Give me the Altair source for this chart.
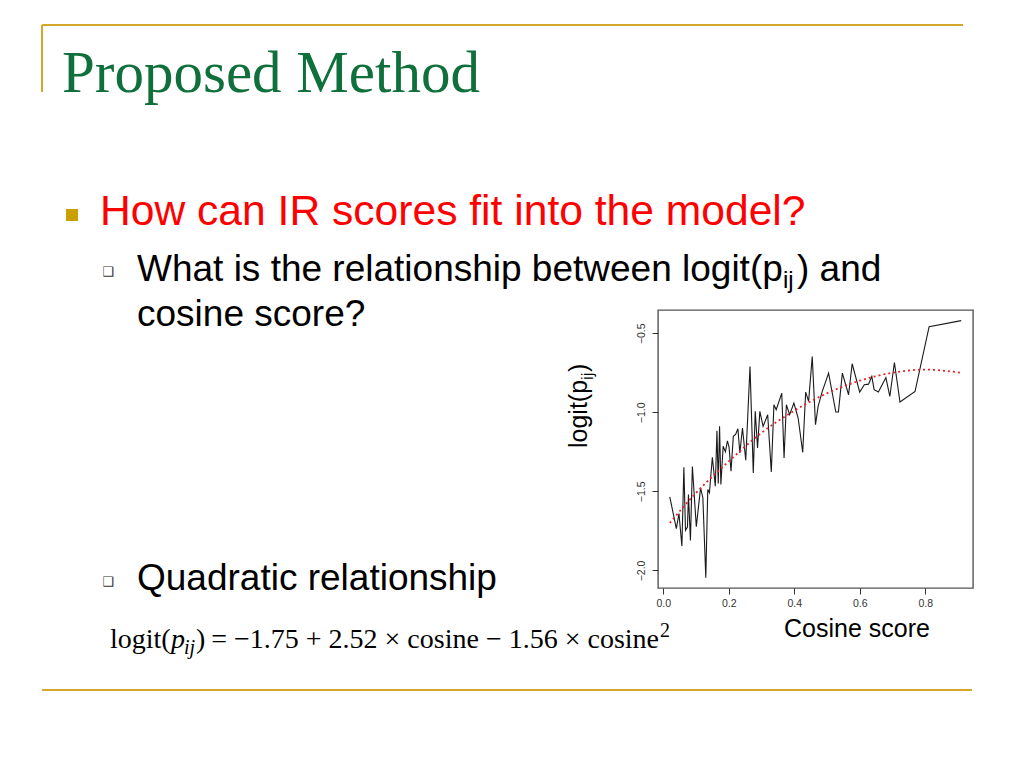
import altair as alt
import pandas as pd

# ---- data ----
cos_x = [0.020, 0.040, 0.048, 0.057, 0.063, 0.068, 0.074, 0.077, 0.083, 0.089,
         0.101, 0.114, 0.121, 0.130, 0.136, 0.141, 0.150, 0.159, 0.164, 0.168,
         0.172, 0.176, 0.183, 0.190, 0.196, 0.201, 0.207, 0.214, 0.221, 0.228,
         0.234, 0.242, 0.252, 0.265, 0.275, 0.281, 0.288, 0.295, 0.305, 0.319,
         0.330, 0.338, 0.345, 0.362, 0.369, 0.376, 0.386, 0.399, 0.412, 0.426,
         0.435, 0.444, 0.455, 0.465, 0.473, 0.485, 0.505, 0.527, 0.535, 0.547,
         0.566, 0.577, 0.600, 0.614, 0.627, 0.637, 0.644, 0.657, 0.680, 0.692,
         0.706, 0.723, 0.769, 0.812, 0.910]
logit_y = [-1.535, -1.735, -1.64, -1.846, -1.348, -1.747, -1.726, -1.52, -1.81, -1.343,
           -1.724, -1.478, -1.54, -2.046, -1.488, -1.509, -1.284, -1.467, -1.116, -1.45,
           -1.089, -1.457, -1.215, -1.25, -1.18, -1.22, -1.373, -1.152, -1.14, -1.104,
           -1.257, -1.099, -1.303, -0.71, -1.383, -0.994, -1.226, -0.994, -1.089, -1.015,
           -1.377, -0.952, -0.984, -0.879, -1.289, -0.952, -1.015, -0.942, -1.036, -1.253,
           -0.872, -0.931, -0.647, -1.078, -0.963, -0.872, -0.752, -0.998, -0.998, -0.752,
           -0.889, -0.693, -0.872, -0.826, -0.822, -0.773, -0.857, -0.872, -0.78, -0.9,
           -0.685, -0.935, -0.868, -0.458, -0.42]

fit_x = [0.02, 0.1, 0.2, 0.3, 0.4, 0.5, 0.6, 0.7, 0.8, 0.91]
fit_y = [-1.70, -1.51, -1.31, -1.13, -0.99, -0.88, -0.80, -0.75, -0.73, -0.75]

x_ticks = [0.0, 0.2, 0.4, 0.6, 0.8]
y_ticks = [-2.0, -1.5, -1.0, -0.5]

title_text = "Proposed Method"
bullet1 = "How can IR scores fit into the model?"
sub1a = "What is the relationship between logit(p"
sub1b = "ij"
sub1c = ") and"
sub1d = "cosine score?"
sub2 = "Quadratic relationship"
x_title = "Cosine score"

# ---- layout helpers (plot origin on screen) ----
OX, OY = 658, 310
PW, PH = 315, 278

def sx(v):
    return v - OX

def sy(v):
    return v - OY

one = alt.Data(values=[{"k": 1}])

GREEN = "#10703c"
GOLD = "#d4a62a"
RED = "#ff0000"

def txt(s, x, y, size, color="black", font="Liberation Sans", align="left",
        baseline="alphabetic", angle=0, style="normal"):
    kw = dict(text=s, fontSize=size, color=color, font=font, align=align,
              baseline=baseline, fontStyle=style)
    if angle:
        kw["angle"] = angle
    return alt.Chart(one).mark_text(**kw).encode(x=alt.value(sx(x)), y=alt.value(sy(y)))

def hrule(x1, x2, y, color=GOLD, w=2):
    return alt.Chart(one).mark_rule(color=color, strokeWidth=w).encode(
        x=alt.value(sx(x1)), x2=alt.value(sx(x2)), y=alt.value(sy(y)))

def vrule(x, y1, y2, color=GOLD, w=2):
    return alt.Chart(one).mark_rule(color=color, strokeWidth=w).encode(
        x=alt.value(sx(x)), y=alt.value(sy(y1)), y2=alt.value(sy(y2)))

df = pd.DataFrame({"cos": cos_x, "logit": logit_y})
fit = pd.DataFrame({"cos": fit_x, "logit": fit_y})

xs = alt.Scale(domain=[-0.016, 0.946], nice=False, zero=False)
ys = alt.Scale(domain=[-2.111, -0.353], nice=False, zero=False)

xaxis = alt.Axis(values=x_ticks, format=".1f", grid=False, domain=False, ticks=True,
                 tickSize=6, tickColor="#333", labelColor="#333", labelFont="Liberation Sans",
                 labelFontSize=10.5, labelPadding=4, title="")
yaxis = alt.Axis(values=y_ticks, format=".1f", grid=False, domain=False, ticks=True,
                 tickSize=6, tickColor="#333", labelColor="#333", labelFont="Liberation Sans",
                 labelFontSize=10.5, labelPadding=6, labelAngle=270, labelAlign="center",
                 labelBaseline="bottom", title="")

line = alt.Chart(df).mark_line(color="#1a1a1a", strokeWidth=1.1).encode(
    x=alt.X("cos:Q", scale=xs, axis=xaxis),
    y=alt.Y("logit:Q", scale=ys, axis=yaxis),
)
fitline = alt.Chart(fit).mark_line(color="#e8202a", strokeWidth=1.8, strokeDash=[2, 3],
                                   interpolate="monotone").encode(
    x=alt.X("cos:Q", scale=xs),
    y=alt.Y("logit:Q", scale=ys),
)

layers = [line, fitline]

# slide decorations
layers += [
    hrule(42, 963, 25),
    vrule(42, 25, 92),
    hrule(42, 972, 690),
    txt(title_text, 62, 92, 59, color=GREEN, font="Liberation Serif"),
    alt.Chart(one).mark_rect(color="#c9a000").encode(
        x=alt.value(sx(66)), x2=alt.value(sx(78)), y=alt.value(sy(209)), y2=alt.value(sy(221))),
    txt(bullet1, 100, 225, 42.6, color=RED),
    txt("\u2751", 108, 272, 13, color="#333", font="DejaVu Sans", align="center", baseline="middle"),
    txt(sub1a, 137, 281, 37),
    txt(sub1b, 783, 288, 24),
    txt(sub1c, 797, 281, 37),
    txt(sub1d, 137, 326, 37),
    txt("\u2751", 108, 582, 13, color="#333", font="DejaVu Sans", align="center", baseline="middle"),
    txt(sub2, 137, 590, 37),
    # formula
    txt("logit(", 110, 648, 28, font="Liberation Serif"),
    txt("p", 171, 648, 28, font="Liberation Serif", style="italic"),
    txt("ij", 184, 654, 20, font="Liberation Serif", style="italic"),
    txt(")", 196, 648, 28, font="Liberation Serif"),
    txt("= \u22121.75 + 2.52 \u00d7 cosine \u2212 1.56 \u00d7 cosine", 659, 648, 28,
        font="Liberation Serif", align="right"),
    txt("2", 660, 637, 20, font="Liberation Serif"),
    # chart titles
    txt("logit(p", 587, 448, 25, angle=270),
    txt("ij", 593, 380, 17, angle=270),
    txt(")", 587, 372, 25, angle=270),
    txt(x_title, 784, 637, 25),
]

chart = alt.layer(*layers).properties(
    width=PW, height=PH,
    autosize=alt.AutoSizeParams(type="none"),
    padding={"left": 650, "top": 302, "right": 43, "bottom": 172},
    background="white",
).configure_view(stroke="#555", strokeWidth=1.4)

chart.save("out.html", embed_options={"renderer": "svg", "actions": False})
